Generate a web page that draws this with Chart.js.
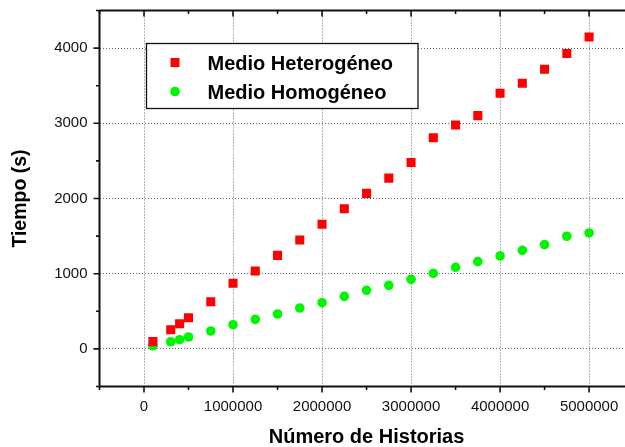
<!DOCTYPE html>
<html>
<head>
<meta charset="utf-8">
<script src="https://cdn.jsdelivr.net/npm/chart.js@4/dist/chart.umd.min.js"></script>
<style>
  html, body { margin: 0; padding: 0; background: #fff; overflow: hidden; }
  #wrap { width: 625px; height: 447px; overflow: hidden; position: relative; }
  canvas { display: block; }
</style>
</head>
<body>
<div id="wrap"><canvas id="c" width="640" height="447"></canvas></div>
<script>
// ---- data ----
const historias = [100000, 300000, 400000, 500000, 750000, 1000000, 1250000, 1500000, 1750000, 2000000, 2250000, 2500000, 2750000, 3000000, 3250000, 3500000, 3750000, 4000000, 4250000, 4500000, 4750000, 5000000];
const tiempoHeterogeneo = [97, 255, 335, 415, 628, 872, 1036, 1244, 1448, 1657, 1865, 2068, 2271, 2480, 2809, 2978, 3102, 3400, 3533, 3720, 3929, 4147];
const tiempoHomogeneo = [42, 95, 122, 158, 238, 322, 393, 464, 544, 614, 699, 779, 845, 925, 1005, 1085, 1160, 1236, 1311, 1386, 1498, 1542];
const seriesNames = ['Medio Heterogéneo', 'Medio Homogéneo'];
const xTickLabels = [0, 1000000, 2000000, 3000000, 4000000, 5000000];
const yTickLabels = [0, 1000, 2000, 3000, 4000];
const xTitle = 'Número de Historias';
const yTitle = 'Tiempo (s)';

const toPts = (xs, ys) => xs.map((x, i) => ({x: x, y: ys[i]}));

const gridColor = '#666666';

const framePlugin = {
  id: 'frame',
  afterDatasetsDraw(chart) {
    const ctx = chart.ctx;
    const a = chart.chartArea;
    const xs = chart.scales.x, ys = chart.scales.y;
    ctx.save();
    ctx.strokeStyle = '#111';
    ctx.lineWidth = 2;
    ctx.beginPath();
    ctx.moveTo(a.left, a.top); ctx.lineTo(a.left, a.bottom);
    ctx.moveTo(a.left, a.bottom); ctx.lineTo(a.right, a.bottom);
    ctx.moveTo(a.left, a.top); ctx.lineTo(a.right, a.top);
    ctx.moveTo(a.right, a.top); ctx.lineTo(a.right, a.bottom);
    ctx.stroke();
    ctx.lineWidth = 1.6;
    ctx.beginPath();
    xs.ticks.forEach(t => {
      const px = xs.getPixelForValue(t.value);
      const major = t.value % 1000000 === 0;
      const len = major ? 6 : 3.5;
      ctx.moveTo(px, a.bottom); ctx.lineTo(px, a.bottom + len);
      ctx.moveTo(px, a.top); ctx.lineTo(px, a.top + len);
    });
    ys.ticks.forEach(t => {
      const py = ys.getPixelForValue(t.value);
      const major = t.value % 1000 === 0;
      const len = major ? 6 : 3.5;
      ctx.moveTo(a.left, py); ctx.lineTo(a.left - len, py);
      ctx.moveTo(a.right, py); ctx.lineTo(a.right - len, py);
    });
    ctx.stroke();

    // legend box
    const bx = 146.5, by = 43.5, bw = 271.5, bh = 65;
    ctx.fillStyle = '#fff';
    ctx.fillRect(bx, by, bw, bh);
    ctx.lineWidth = 1.3;
    ctx.strokeStyle = '#111';
    ctx.strokeRect(bx, by, bw, bh);
    const ds = chart.data.datasets;
    const rows = [62.5, 91.5];
    ds.forEach((d, i) => {
      const cy = rows[i];
      const cx = 175;
      ctx.fillStyle = d.backgroundColor;
      if (d.pointStyle === 'rect') {
        ctx.fillRect(cx - 4.5, cy - 4.5, 9, 9);
      } else {
        ctx.beginPath();
        ctx.arc(cx, cy, 4.8, 0, Math.PI * 2);
        ctx.fill();
      }
      ctx.fillStyle = '#000';
      ctx.font = 'bold 20px "Liberation Sans", Arial, sans-serif';
      ctx.textBaseline = 'alphabetic';
      ctx.textAlign = 'left';
      ctx.fillText(d.label, 207.5, cy + 7.3);
    });
    ctx.restore();
  }
};

new Chart(document.getElementById('c'), {
  type: 'scatter',
  data: {
    datasets: [
      {
        label: seriesNames[0],
        data: toPts(historias, tiempoHeterogeneo),
        backgroundColor: '#ff0000',
        borderColor: '#ff0000',
        pointStyle: 'rect',
        pointRadius: 6.4,
        pointBorderWidth: 0,
        showLine: false
      },
      {
        label: seriesNames[1],
        data: toPts(historias, tiempoHomogeneo),
        backgroundColor: '#00f500',
        borderColor: '#00f500',
        pointStyle: 'circle',
        pointRadius: 4.8,
        pointBorderWidth: 0,
        showLine: false
      }
    ]
  },
  options: {
    responsive: false,
    animation: false,
    devicePixelRatio: 1,
    layout: { padding: { left: 0, top: 10.5, right: 6, bottom: 0 } },
    plugins: { legend: { display: false }, tooltip: { enabled: false } },
    scales: {
      x: {
        type: 'linear',
        min: -500000,
        max: 5500000,
        afterFit(scale) { scale.height = 60.5; scale.paddingLeft = 0; scale.paddingRight = 0; },
        afterBuildTicks(scale) {
          const t = [];
          for (let v = -500000; v <= 5500000; v += 500000) t.push({value: v});
          scale.ticks = t;
        },
        ticks: {
          autoSkip: false,
          maxRotation: 0,
          padding: 11,
          color: '#111',
          font: { family: '"Liberation Sans", Arial, sans-serif', size: 15 },
          callback: (v) => xTickLabels.includes(v) ? String(v) : ''
        },
        grid: {
          drawTicks: false,
          lineWidth: 1,
          color: (c) => (c.tick && c.tick.value % 1000000 === 0) ? gridColor : 'rgba(0,0,0,0)'
        },
        border: { display: false, dash: [1, 2] },
        title: {
          display: true,
          text: xTitle,
          color: '#000',
          font: { family: '"Liberation Sans", Arial, sans-serif', size: 20, weight: 'bold' },
          padding: { top: 0, bottom: -2 }
        }
      },
      y: {
        type: 'linear',
        min: -500,
        max: 4500,
        afterFit(scale) { scale.width = 99.5; scale.paddingTop = 0; scale.paddingBottom = 0; },
        afterBuildTicks(scale) {
          const t = [];
          for (let v = -500; v <= 4500; v += 500) t.push({value: v});
          scale.ticks = t;
        },
        ticks: {
          autoSkip: false,
          padding: 12,
          color: '#111',
          font: { family: '"Liberation Sans", Arial, sans-serif', size: 15 },
          callback: (v) => yTickLabels.includes(v) ? String(v) : ''
        },
        grid: {
          drawTicks: false,
          lineWidth: 1,
          color: (c) => (c.tick && c.tick.value % 1000 === 0) ? gridColor : 'rgba(0,0,0,0)'
        },
        border: { display: false, dash: [1, 2] },
        title: {
          display: true,
          text: yTitle,
          color: '#000',
          font: { family: '"Liberation Sans", Arial, sans-serif', size: 19.5, weight: 'bold' },
          padding: { top: 9, bottom: 0 }
        }
      }
    }
  },
  plugins: [framePlugin]
});
</script>
</body>
</html>
